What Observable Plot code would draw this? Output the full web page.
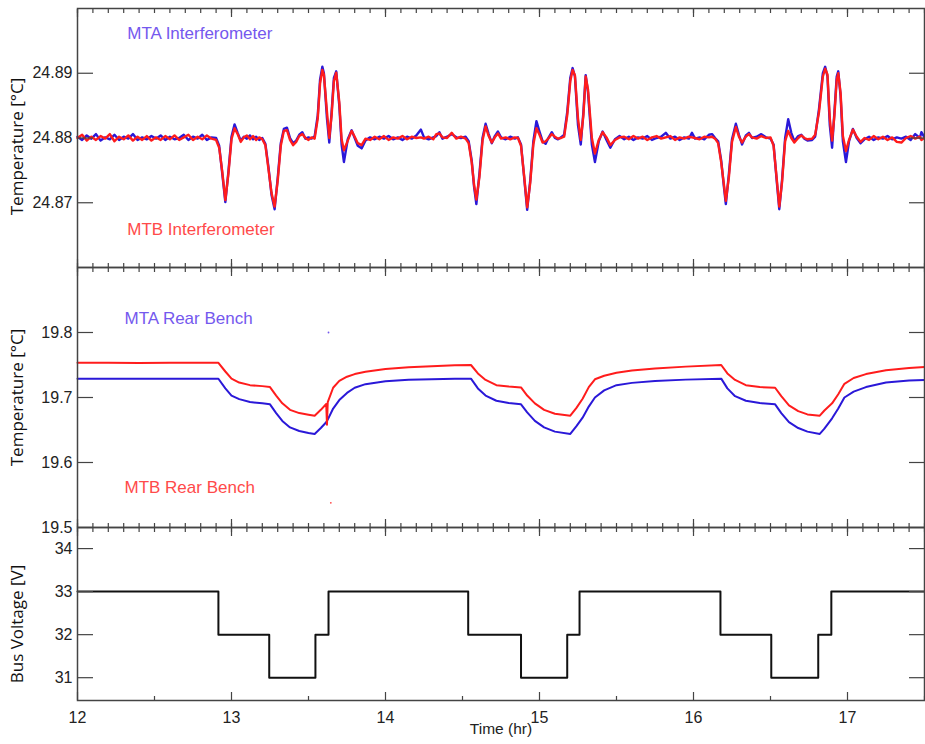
<!DOCTYPE html>
<html><head><meta charset="utf-8">
<script src="https://cdn.jsdelivr.net/npm/d3@7"></script>
<script src="https://cdn.jsdelivr.net/npm/@observablehq/plot@0.6"></script>
<style>
body{margin:0;background:#fff;}
#chart{position:relative;width:925px;height:744px;background:#fff;}
#chart svg{position:absolute;left:0;overflow:visible;}
</style></head><body><div id="chart"></div>
<script>
// ---------- Panel 1: interferometer temperatures ----------
const interfTime = [
12.00,12.03,12.06,12.09,12.12,12.15,12.18,12.21,12.24,12.27,
12.30,12.33,12.36,12.39,12.42,12.45,12.48,12.51,12.54,12.57,
12.60,12.63,12.66,12.69,12.72,12.75,12.78,12.81,12.84,12.87,
12.90,12.92,12.94,12.96,12.98,13.00,13.02,13.04,13.06,13.08,
13.10,13.12,13.14,13.16,13.18,13.20,13.22,13.24,13.26,13.28,
13.30,13.32,13.34,13.36,13.38,13.40,13.42,13.44,13.46,13.48,
13.50,13.52,13.54,13.56,13.575,13.59,13.60,13.62,13.635,13.65,
13.665,13.68,13.70,13.715,13.73,13.755,13.78,13.80,13.82,13.845,
13.87,13.90,13.93,13.96,13.99,14.02,14.05,14.08,14.11,14.14,
14.17,14.20,14.23,14.25,14.28,14.31,14.33,14.35,14.37,14.40,
14.43,14.46,14.49,14.52,14.54,14.56,14.575,14.59,14.61,14.63,
14.65,14.67,14.69,14.71,14.73,14.75,14.78,14.81,14.84,14.86,
14.88,14.90,14.92,14.94,14.96,14.98,15.00,15.02,15.04,15.06,
15.08,15.10,15.12,15.14,15.16,15.18,15.20,15.215,15.23,15.25,
15.268,15.285,15.30,15.315,15.34,15.36,15.385,15.41,15.435,15.46,
15.49,15.52,15.55,15.58,15.61,15.64,15.67,15.70,15.73,15.76,
15.79,15.82,15.85,15.88,15.91,15.94,15.97,15.99,16.01,16.04,
16.07,16.10,16.12,16.14,16.16,16.18,16.195,16.21,16.23,16.25,
16.275,16.295,16.315,16.34,16.36,16.38,16.41,16.44,16.47,16.50,
16.52,16.54,16.557,16.575,16.595,16.615,16.635,16.655,16.68,16.70,
16.72,16.74,16.77,16.79,16.815,16.84,16.855,16.87,16.885,16.90,
16.915,16.93,16.94,16.955,16.97,16.99,17.01,17.035,17.06,17.085,
17.11,17.14,17.17,17.20,17.23,17.26,17.29,17.32,17.35,17.38,
17.41,17.44,17.47,17.48,17.50];
const mtaInterf = [
24.8802,24.8797,24.8804,24.8799,24.8806,24.8796,24.8801,24.8798,24.8805,24.8797,
24.8802,24.8799,24.8806,24.8797,24.8801,24.8798,24.8803,24.8799,24.8804,24.8797,
24.8802,24.8798,24.8800,24.8805,24.8797,24.8802,24.8799,24.8805,24.8797,24.8801,
24.8800,24.8788,24.8745,24.8701,24.8748,24.8802,24.8821,24.8808,24.8796,24.8802,
24.8799,24.8804,24.8798,24.8802,24.8797,24.8800,24.8791,24.8755,24.8712,24.8690,
24.8738,24.8792,24.8814,24.8816,24.8800,24.8792,24.8796,24.8805,24.8809,24.8799,
24.8801,24.8799,24.8803,24.8835,24.8890,24.8910,24.8900,24.8830,24.8793,24.8840,
24.8893,24.8903,24.8850,24.8790,24.8763,24.8798,24.8812,24.8800,24.8788,24.8784,
24.8796,24.8801,24.8798,24.8802,24.8799,24.8803,24.8798,24.8801,24.8797,24.8802,
24.8799,24.8804,24.8813,24.8801,24.8798,24.8801,24.8803,24.8809,24.8799,24.8802,
24.8806,24.8801,24.8800,24.8802,24.8795,24.8765,24.8725,24.8698,24.8745,24.8800,
24.8822,24.8806,24.8792,24.8803,24.8810,24.8801,24.8798,24.8802,24.8799,24.8801,
24.8790,24.8740,24.8689,24.8735,24.8795,24.8826,24.8810,24.8795,24.8791,24.8801,
24.8809,24.8800,24.8798,24.8801,24.8805,24.8840,24.8893,24.8908,24.8895,24.8820,
24.8790,24.8840,24.8897,24.8870,24.8790,24.8763,24.8795,24.8810,24.8797,24.8785,
24.8798,24.8803,24.8798,24.8802,24.8797,24.8801,24.8799,24.8803,24.8797,24.8800,
24.8802,24.8808,24.8799,24.8802,24.8797,24.8801,24.8799,24.8808,24.8799,24.8801,
24.8798,24.8805,24.8806,24.8800,24.8795,24.8765,24.8730,24.8698,24.8745,24.8798,
24.8822,24.8805,24.8790,24.8804,24.8808,24.8800,24.8802,24.8806,24.8801,24.8799,
24.8790,24.8735,24.8690,24.8735,24.8800,24.8829,24.8808,24.8795,24.8803,24.8805,
24.8799,24.8796,24.8797,24.8802,24.8845,24.8900,24.8910,24.8895,24.8820,24.8785,
24.8840,24.8895,24.8903,24.8865,24.8795,24.8763,24.8795,24.8814,24.8800,24.8792,
24.8798,24.8802,24.8797,24.8801,24.8799,24.8803,24.8798,24.8801,24.8799,24.8802,
24.8797,24.8806,24.8800,24.8809,24.8801];
const mtbInterf = [
24.8800,24.8805,24.8796,24.8802,24.8797,24.8803,24.8799,24.8806,24.8795,24.8802,
24.8798,24.8804,24.8796,24.8802,24.8797,24.8803,24.8796,24.8801,24.8797,24.8803,
24.8798,24.8804,24.8797,24.8801,24.8805,24.8797,24.8802,24.8798,24.8804,24.8799,
24.8797,24.8785,24.8748,24.8704,24.8745,24.8798,24.8815,24.8806,24.8794,24.8801,
24.8804,24.8798,24.8803,24.8797,24.8801,24.8798,24.8789,24.8752,24.8715,24.8694,
24.8734,24.8788,24.8811,24.8812,24.8797,24.8789,24.8794,24.8803,24.8806,24.8800,
24.8797,24.8801,24.8799,24.8830,24.8884,24.8905,24.8898,24.8840,24.8800,24.8835,
24.8888,24.8901,24.8855,24.8798,24.8781,24.8796,24.8811,24.8802,24.8792,24.8789,
24.8799,24.8797,24.8802,24.8798,24.8803,24.8797,24.8801,24.8799,24.8803,24.8798,
24.8802,24.8800,24.8801,24.8799,24.8802,24.8798,24.8806,24.8807,24.8801,24.8800,
24.8808,24.8799,24.8802,24.8799,24.8792,24.8762,24.8728,24.8705,24.8740,24.8796,
24.8818,24.8803,24.8793,24.8801,24.8807,24.8799,24.8801,24.8798,24.8801,24.8800,
24.8788,24.8742,24.8693,24.8731,24.8790,24.8815,24.8805,24.8793,24.8795,24.8800,
24.8806,24.8802,24.8799,24.8800,24.8802,24.8835,24.8888,24.8905,24.8897,24.8830,
24.8797,24.8835,24.8895,24.8875,24.8800,24.8776,24.8797,24.8809,24.8801,24.8789,
24.8797,24.8801,24.8802,24.8798,24.8803,24.8799,24.8802,24.8797,24.8801,24.8803,
24.8799,24.8801,24.8803,24.8797,24.8801,24.8799,24.8802,24.8801,24.8800,24.8798,
24.8802,24.8801,24.8802,24.8799,24.8792,24.8762,24.8733,24.8703,24.8740,24.8794,
24.8817,24.8802,24.8793,24.8802,24.8806,24.8801,24.8799,24.8803,24.8800,24.8801,
24.8788,24.8738,24.8694,24.8732,24.8795,24.8811,24.8800,24.8793,24.8800,24.8804,
24.8800,24.8798,24.8799,24.8805,24.8840,24.8895,24.8907,24.8898,24.8830,24.8796,
24.8835,24.8890,24.8900,24.8870,24.8803,24.8780,24.8797,24.8813,24.8802,24.8794,
24.8800,24.8797,24.8803,24.8798,24.8802,24.8797,24.8801,24.8794,24.8793,24.8800,
24.8803,24.8799,24.8802,24.8797,24.8800];

// ---------- Panel 2: rear bench temperatures ----------
const rearTime = [
12.00,12.20,12.40,12.60,12.80,12.915,12.96,13.00,13.05,13.12,
13.20,13.25,13.29,13.33,13.38,13.44,13.50,13.54,13.58,13.615,
13.62,13.625,13.66,13.70,13.75,13.80,13.87,14.00,14.15,14.30,
14.45,14.555,14.60,14.65,14.72,14.80,14.88,14.92,14.97,15.03,
15.10,15.20,15.24,15.28,15.32,15.36,15.42,15.50,15.60,15.75,
15.95,16.18,16.22,16.27,16.34,16.43,16.53,16.57,16.62,16.68,
16.74,16.82,16.85,16.90,16.94,16.98,17.04,17.12,17.25,17.40,
17.50];
const mtaRear = [
19.7288,19.7288,19.7287,19.7288,19.7288,19.7288,19.7140,19.7030,19.6975,19.6930,
19.6910,19.6895,19.6760,19.6640,19.6540,19.6485,19.6455,19.6440,19.6530,19.6620,
19.6640,19.6660,19.6830,19.6960,19.7070,19.7150,19.7205,19.7250,19.7272,19.7282,
19.7287,19.7290,19.7140,19.7030,19.6950,19.6915,19.6895,19.6770,19.6640,19.6540,
19.6475,19.6440,19.6560,19.6690,19.6860,19.7000,19.7110,19.7190,19.7225,19.7255,
19.7275,19.7290,19.7140,19.7020,19.6950,19.6915,19.6895,19.6760,19.6620,19.6530,
19.6475,19.6440,19.6520,19.6680,19.6830,19.7000,19.7090,19.7160,19.7230,19.7260,
19.7270];
const mtbRear = [
19.7533,19.7535,19.7532,19.7534,19.7533,19.7533,19.7400,19.7290,19.7230,19.7190,
19.7175,19.7160,19.7030,19.6910,19.6810,19.6760,19.6735,19.6720,19.6810,19.6900,
19.6580,19.6930,19.7150,19.7255,19.7320,19.7360,19.7395,19.7440,19.7465,19.7480,
19.7495,19.7500,19.7370,19.7270,19.7190,19.7170,19.7155,19.7030,19.6910,19.6810,
19.6750,19.6720,19.6840,19.6980,19.7160,19.7280,19.7335,19.7380,19.7415,19.7445,
19.7475,19.7500,19.7370,19.7270,19.7190,19.7160,19.7150,19.7020,19.6880,19.6790,
19.6740,19.6720,19.6800,19.6910,19.7050,19.7210,19.7300,19.7360,19.7420,19.7455,
19.7470];
const outlierTime = [13.63, 13.645];
const outlierValue = [19.800, 19.538];

// ---------- Panel 3: bus voltage (steps) ----------
const busTime = [12, 12.915, 13.245, 13.545, 13.63, 14.537, 14.88, 15.18, 15.26, 16.175, 16.505, 16.81, 16.895, 17.5];
const busVolt = [33, 32, 31, 32, 33, 32, 31, 32, 33, 32, 31, 32, 33, 33];

// ---------- ticks & labels ----------
const xMajor = [12, 13, 14, 15, 16, 17];
const xMinor = d3.range(120, 176).map(d => d / 10);
const xHalf = [12.5, 13.5, 14.5, 15.5, 16.5, 17.5];
const interfTicks = [24.87, 24.88, 24.89];
const rearTicks = [19.5, 19.6, 19.7, 19.8];
const busTicks = [31, 32, 33, 34];
const labelText = ["MTA Interferometer", "MTB Interferometer", "MTA Rear Bench", "MTB Rear Bench"];
const labelTime = [12.323, 12.323, 12.305, 12.305];
const labelValue = [24.8961, 24.8659, 19.8215, 19.5615];

const BLUE = "#2a18d8", RED = "#ff1c1c", LBLUE = "#7458ee", LRED = "#ff4a4a", AX = "#444";
const FONT = "'Liberation Sans', Arial, sans-serif";

const interfRows = interfTime.map((t, i) => ({t, a: mtaInterf[i], b: mtbInterf[i]}));
const rearRows = rearTime.map((t, i) => ({t, a: mtaRear[i], b: mtbRear[i]}));
const outRows = outlierTime.map((t, i) => ({t, v: outlierValue[i]}));
const busRows = busTime.map((t, i) => ({t, v: busVolt[i]}));
const lab = i => [{t: labelTime[i], v: labelValue[i], s: labelText[i]}];

const noText = () => "";
function frameTicks(yTicks, bottomMinor) {
  const o = {tickFormat: noText, stroke: AX, strokeWidth: 1.2, label: null};
  return [
    Plot.axisX(xMinor, {...o, anchor: "top", tickSize: -4}),
    Plot.axisX(xMajor, {...o, anchor: "top", tickSize: -8}),
    Plot.axisX(bottomMinor, {...o, anchor: "bottom", tickSize: -4}),
    Plot.axisX(xMajor, {...o, anchor: "bottom", tickSize: -8}),
    Plot.axisY(yTicks, {...o, anchor: "left", tickSize: -16}),
    Plot.axisY(yTicks, {...o, anchor: "right", tickSize: -16})
  ];
}
function yLabels(yTicks, fmt) {
  return Plot.axisY(yTicks, {anchor: "left", tickSize: 0, tickPadding: 5, tickFormat: fmt, fontSize: 16, fill: "#222", label: null});
}
function yTitle(txt, dy) {
  return Plot.text([txt], {text: d => d, frameAnchor: "left", textAnchor: "middle", lineAnchor: "middle", dx: -59.5, dy, rotate: -90, fontSize: 17, fontFamily: "'Open Sans', sans-serif", fill: "#111"});
}
function annot(i, color) {
  return Plot.text(lab(i), {x: "t", y: "v", text: "s", fill: color, textAnchor: "start", fontSize: 17});
}
const common = {width: 925, marginLeft: 77, marginRight: 1, style: {fontFamily: FONT, background: "transparent", color: "#222"}};
const xScale = {domain: [12, 17.5], label: null};

const p1 = Plot.plot({
  ...common, height: 267, marginTop: 8, marginBottom: 0,
  x: xScale, y: {domain: [24.86, 24.90], label: null},
  marks: [
    Plot.line(interfRows, {x: "t", y: "a", stroke: BLUE, strokeWidth: 2.4}),
    Plot.line(interfRows, {x: "t", y: "b", stroke: RED, strokeWidth: 2.4}),
    annot(0, LBLUE), annot(1, LRED),
    ...frameTicks(interfTicks, xMinor),
    yLabels(interfTicks, d3.format(".2f")),
    yTitle("Temperature [°C]", 8.5),
    Plot.frame({stroke: AX, strokeWidth: 1.5})
  ]
});
const p2 = Plot.plot({
  ...common, height: 260, marginTop: 0, marginBottom: 0,
  x: xScale, y: {domain: [19.5, 19.9], label: null},
  marks: [
    Plot.line(rearRows, {x: "t", y: "a", stroke: BLUE, strokeWidth: 2}),
    Plot.line(rearRows, {x: "t", y: "b", stroke: RED, strokeWidth: 2}),
    Plot.dot(outRows.slice(0, 1), {x: "t", y: "v", r: 0.9, fill: LBLUE, stroke: "none"}),
    Plot.dot(outRows.slice(1), {x: "t", y: "v", r: 0.9, fill: LRED, stroke: "none"}),
    annot(2, LBLUE), annot(3, LRED),
    ...frameTicks(rearTicks, xMinor),
    yLabels(rearTicks, d3.format(".1f")),
    yTitle("Temperature [°C]", 0),
    Plot.frame({stroke: AX, strokeWidth: 1.5})
  ]
});
const p3 = Plot.plot({
  ...common, height: 217, marginTop: 0, marginBottom: 44,
  x: xScale, y: {domain: [30.47, 34.49], label: null},
  marks: [
    Plot.line(busRows, {x: "t", y: "v", curve: "step-after", stroke: "#111", strokeWidth: 2}),
    ...frameTicks(busTicks, xHalf),
    yLabels(busTicks, d3.format("d")),
    Plot.axisX(xMajor, {anchor: "bottom", tickSize: 0, tickPadding: 11, tickFormat: d3.format("d"), fontSize: 16, fill: "#222", label: null}),
    Plot.text(["Time (hr)"], {text: d => d, frameAnchor: "bottom", textAnchor: "middle", dy: 33, fontSize: 15.5, fill: "#222"}),
    yTitle("Bus Voltage [V]", 10),
    Plot.frame({stroke: AX, strokeWidth: 1.5})
  ]
});
const chart = document.getElementById("chart");
[[p1, 0], [p2, 267], [p3, 527]].forEach(([svg, top]) => {
  svg.style.top = top + "px";
  chart.appendChild(svg);
});
</script>
</body></html>
